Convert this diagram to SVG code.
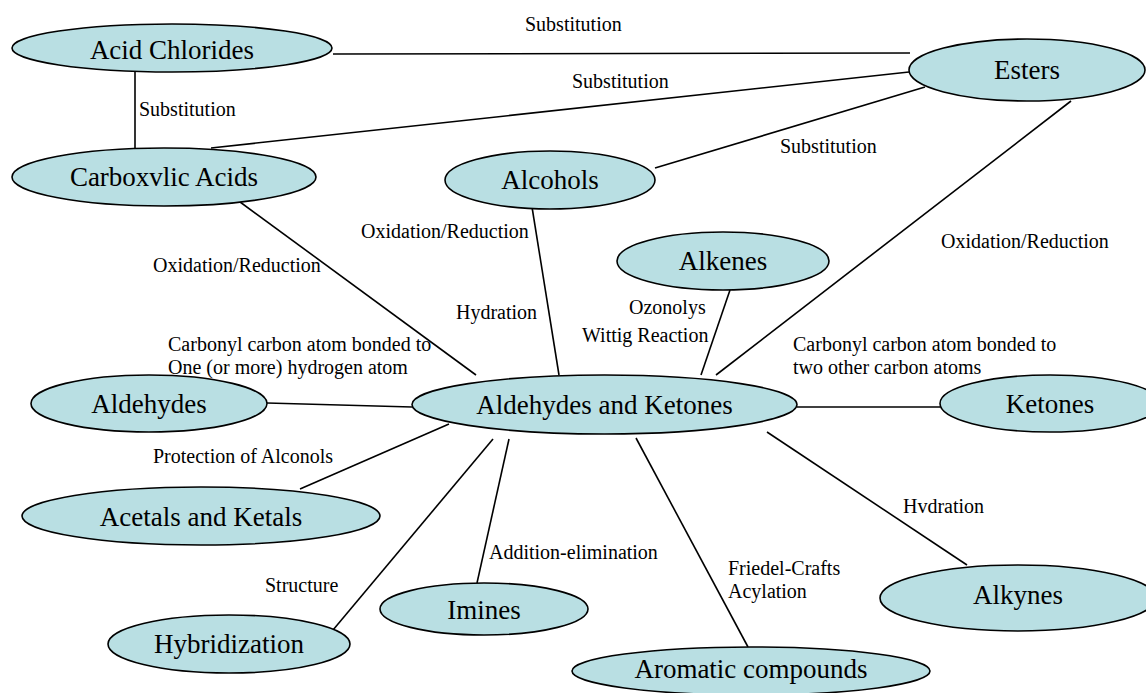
<svg xmlns="http://www.w3.org/2000/svg" width="1146" height="693" viewBox="0 0 1146 693">
<style>
.n ellipse{fill:#b9dfe3;stroke:#000;stroke-width:1.6}
.n text{font-family:"Liberation Serif","Times New Roman",serif;font-size:27px;text-anchor:middle;fill:#000}
.c line{stroke:#000;stroke-width:1.6}
.l text{font-family:"Liberation Serif","Times New Roman",serif;font-size:20px;fill:#000}
</style>
<rect width="1146" height="693" fill="#fff"/>
<g class="c" id="connectors">
<line x1="333" y1="54" x2="910" y2="53"/>
<line x1="135" y1="72" x2="135" y2="148"/>
<line x1="211" y1="148" x2="909" y2="72"/>
<line x1="655" y1="168" x2="925" y2="87"/>
<line x1="1071" y1="101" x2="716" y2="375"/>
<line x1="236" y1="199" x2="476" y2="375"/>
<line x1="532" y1="207" x2="559" y2="375"/>
<line x1="730" y1="290" x2="701" y2="375"/>
<line x1="267" y1="403" x2="412" y2="407"/>
<line x1="797" y1="407" x2="940" y2="407"/>
<line x1="449" y1="424" x2="300" y2="489"/>
<line x1="493" y1="439" x2="333" y2="630"/>
<line x1="509" y1="439" x2="477" y2="583"/>
<line x1="636" y1="438" x2="748" y2="647"/>
<line x1="767" y1="432" x2="967" y2="565"/>
</g>
<g class="l" id="labels">
<text x="525" y="31">Substitution</text>
<text x="572" y="88">Substitution</text>
<text x="139" y="116">Substitution</text>
<text x="780" y="153">Substitution</text>
<text x="941" y="248">Oxidation/Reduction</text>
<text x="361" y="238">Oxidation/Reduction</text>
<text x="153" y="272">Oxidation/Reduction</text>
<text x="456" y="319">Hydration</text>
<text x="168" y="351">Carbonyl carbon atom bonded to</text>
<text x="168" y="374">One (or more) hydrogen atom</text>
<text x="629" y="314">Ozonolys</text>
<text x="582" y="342">Wittig Reaction</text>
<text x="793" y="351">Carbonyl carbon atom bonded to</text>
<text x="793" y="374">two other carbon atoms</text>
<text x="153" y="463">Protection of Alconols</text>
<text x="265" y="592">Structure</text>
<text x="489" y="559">Addition-elimination</text>
<text x="728" y="575">Friedel-Crafts</text>
<text x="728" y="598">Acylation</text>
<text x="903" y="513">Hvdration</text>
</g>
<g class="n" id="acid-chlorides"><ellipse cx="172" cy="48" rx="160" ry="24"/><text x="172" y="59">Acid Chlorides</text></g>
<g class="n" id="carboxylic-acids"><ellipse cx="164" cy="177" rx="152" ry="29"/><text x="164" y="186">Carboxvlic Acids</text></g>
<g class="n" id="esters"><ellipse cx="1027" cy="70" rx="118" ry="31"/><text x="1027" y="79">Esters</text></g>
<g class="n" id="alcohols"><ellipse cx="550" cy="180" rx="105" ry="29"/><text x="550" y="189">Alcohols</text></g>
<g class="n" id="alkenes"><ellipse cx="723" cy="261" rx="106" ry="29"/><text x="723" y="270">Alkenes</text></g>
<g class="n" id="aldehydes-ketones"><ellipse cx="604.5" cy="404.5" rx="192.5" ry="29.5"/><text x="604.5" y="414">Aldehydes and Ketones</text></g>
<g class="n" id="ketones"><ellipse cx="1050" cy="403.5" rx="110" ry="28.5"/><text x="1050" y="413">Ketones</text></g>
<g class="n" id="aldehydes"><ellipse cx="149" cy="403.5" rx="118" ry="28.5"/><text x="149" y="413">Aldehydes</text></g>
<g class="n" id="acetals-ketals"><ellipse cx="201" cy="516" rx="179" ry="29"/><text x="201" y="526">Acetals and Ketals</text></g>
<g class="n" id="hybridization"><ellipse cx="229" cy="644" rx="121" ry="29"/><text x="229" y="653">Hybridization</text></g>
<g class="n" id="imines"><ellipse cx="484" cy="609" rx="104" ry="26"/><text x="484" y="619">Imines</text></g>
<g class="n" id="aromatic"><ellipse cx="751" cy="671" rx="179" ry="24"/><text x="751" y="678">Aromatic compounds</text></g>
<g class="n" id="alkynes"><ellipse cx="1018" cy="598" rx="138" ry="33"/><text x="1018" y="604">Alkynes</text></g>
</svg>
